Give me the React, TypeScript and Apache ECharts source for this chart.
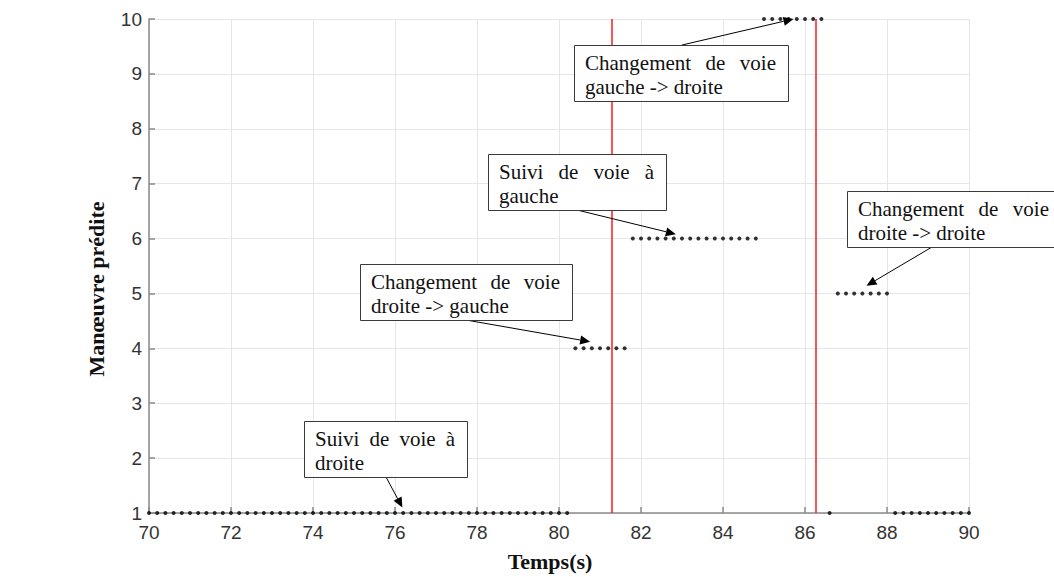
import React, { useEffect, useRef } from "react";
import * as echarts from "echarts";

// Time samples (s)
const temps = [
  70.0, 70.2, 70.4, 70.6, 70.8, 71.0, 71.2, 71.4, 71.6, 71.8,
  72.0, 72.2, 72.4, 72.6, 72.8, 73.0, 73.2, 73.4, 73.6, 73.8,
  74.0, 74.2, 74.4, 74.6, 74.8, 75.0, 75.2, 75.4, 75.6, 75.8,
  76.0, 76.2, 76.4, 76.6, 76.8, 77.0, 77.2, 77.4, 77.6, 77.8,
  78.0, 78.2, 78.4, 78.6, 78.8, 79.0, 79.2, 79.4, 79.6, 79.8,
  80.0, 80.2, 80.4, 80.6, 80.8, 81.0, 81.2, 81.4, 81.6, 81.8,
  82.0, 82.2, 82.4, 82.6, 82.8, 83.0, 83.2, 83.4, 83.6, 83.8,
  84.0, 84.2, 84.4, 84.6, 84.8, 85.0, 85.2, 85.4, 85.6, 85.8,
  86.0, 86.2, 86.4, 86.6, 86.8, 87.0, 87.2, 87.4, 87.6, 87.8,
  88.0, 88.2, 88.4, 88.6, 88.8, 89.0, 89.2, 89.4, 89.6, 89.8,
  90.0,
];

// Predicted manoeuvre at each time sample
const manoeuvre = [
  1, 1, 1, 1, 1, 1, 1, 1, 1, 1,
  1, 1, 1, 1, 1, 1, 1, 1, 1, 1,
  1, 1, 1, 1, 1, 1, 1, 1, 1, 1,
  1, 1, 1, 1, 1, 1, 1, 1, 1, 1,
  1, 1, 1, 1, 1, 1, 1, 1, 1, 1,
  1, 1, 4, 4, 4, 4, 4, 4, 4, 6,
  6, 6, 6, 6, 6, 6, 6, 6, 6, 6,
  6, 6, 6, 6, 6, 10, 10, 10, 10, 10,
  10, 10, 10, 1, 5, 5, 5, 5, 5, 5,
  5, 1, 1, 1, 1, 1, 1, 1, 1, 1,
  1,
];

// Lane-change instants (red vertical lines)
const changementsVoie = [81.28, 86.27];

// Annotation texts
const annotationTexts = [
  ["Changement de voie", "gauche -> droite"],
  ["Suivi de voie à", "gauche"],
  ["Changement de voie", "droite -> gauche"],
  ["Changement de voie", "droite -> droite"],
  ["Suivi de voie à", "droite"],
];

// Arrow tips in data coordinates [time, manoeuvre]
const annotationTips = [
  [85.72, 10.0],
  [82.85, 6.08],
  [80.76, 4.12],
  [87.5, 5.14],
  [76.18, 1.1],
];

// Box layout (pixels) and arrow start points (pixels)
const boxLayout = [
  { x: 574, y: 45, w: 214, h: 56, sx: 682, sy: 45 },
  { x: 488, y: 154, w: 178, h: 56, sx: 577, sy: 210 },
  { x: 360, y: 264, w: 212, h: 56, sx: 466, sy: 320 },
  { x: 847, y: 191, w: 214, h: 56, sx: 932, sy: 247 },
  { x: 304, y: 421, w: 163, h: 56, sx: 386, sy: 477 },
];

const BOX_FONT_SIZE = 21;
const BOX_FONT_FAMILY = "'Liberation Serif', 'Times New Roman', serif";

let measureCtx: CanvasRenderingContext2D | null = null;
function measure(t: string): number {
  if (!measureCtx) {
    const c = document.createElement("canvas");
    measureCtx = c.getContext("2d");
  }
  if (!measureCtx) return t.length * BOX_FONT_SIZE * 0.5;
  measureCtx.font = `${BOX_FONT_SIZE}px ${BOX_FONT_FAMILY}`;
  return measureCtx.measureText(t).width;
}

function textEl(text: string, x: number, y: number) {
  return {
    type: "text",
    z: 110,
    silent: true,
    style: {
      text,
      x,
      y,
      fill: "#111",
      fontSize: BOX_FONT_SIZE,
      fontFamily: BOX_FONT_FAMILY,
      align: "left",
      verticalAlign: "middle",
      textAlign: "left",
      textVerticalAlign: "middle",
    },
  };
}

function lineEls(line: string, x: number, y: number, width: number, justify: boolean) {
  const words = line.split(" ");
  if (!justify || words.length < 2) return [textEl(line, x, y)];
  const widths = words.map(measure);
  const total = widths.reduce((a, b) => a + b, 0);
  const gap = (width - total) / (words.length - 1);
  const els: any[] = [];
  let cx = x;
  words.forEach((w, i) => {
    els.push(textEl(w, cx, y));
    cx += widths[i] + gap;
  });
  return els;
}

function arrowEls(sx: number, sy: number, tx: number, ty: number) {
  const dx = tx - sx;
  const dy = ty - sy;
  const len = Math.sqrt(dx * dx + dy * dy) || 1;
  const ux = dx / len;
  const uy = dy / len;
  const L = 10;
  const W = 4.5;
  const bx = tx - ux * L;
  const by = ty - uy * L;
  const nx = -uy;
  const ny = ux;
  return [
    {
      type: "line",
      z: 105,
      silent: true,
      shape: { x1: sx, y1: sy, x2: bx, y2: by },
      style: { stroke: "#000", lineWidth: 1 },
    },
    {
      type: "polygon",
      z: 105,
      silent: true,
      shape: {
        points: [
          [tx, ty],
          [bx + nx * W, by + ny * W],
          [bx - nx * W, by - ny * W],
        ],
      },
      style: { fill: "#000", stroke: "none" },
    },
  ];
}

export default function App() {
  const ref = useRef<HTMLDivElement>(null);

  useEffect(() => {
    if (!ref.current) return;
    const chart = echarts.init(ref.current, undefined, { renderer: "svg" });

    const axisLabelStyle = {
      color: "#333333",
      fontFamily: "'Liberation Sans', Arial, sans-serif",
      fontSize: 19,
    };

    const option: any = {
      animation: false,
      backgroundColor: "#ffffff",
      grid: { left: 149, right: 85, top: 19, bottom: 59, containLabel: false },
      xAxis: {
        type: "value",
        min: 70,
        max: 90,
        interval: 2,
        name: "Temps(s)",
        nameLocation: "middle",
        nameGap: 37,
        nameTextStyle: {
          fontFamily: "'Liberation Serif', 'Times New Roman', serif",
          fontWeight: "bold",
          fontSize: 22,
          color: "#111",
          padding: [0, 18, 0, 0],
        },
        axisLine: { show: true, onZero: false, lineStyle: { color: "#8a8a8a", width: 1.5 } },
        axisTick: { show: true, inside: true, length: 6, lineStyle: { color: "#8a8a8a", width: 1.5 } },
        axisLabel: { ...axisLabelStyle, margin: 10 },
        splitLine: { show: true, lineStyle: { color: "#e6e6e6", width: 1 } },
      },
      yAxis: {
        type: "value",
        min: 1,
        max: 10,
        interval: 1,
        name: "Manœuvre prédite",
        nameLocation: "middle",
        nameRotate: 90,
        nameGap: 42,
        nameTextStyle: {
          fontFamily: "'Liberation Serif', 'Times New Roman', serif",
          fontWeight: "bold",
          fontSize: 22,
          color: "#111",
          padding: [0, 46, 0, 0],
        },
        axisLine: { show: true, onZero: false, lineStyle: { color: "#8a8a8a", width: 1.5 } },
        axisTick: { show: true, inside: true, length: 6, lineStyle: { color: "#8a8a8a", width: 1.5 } },
        axisLabel: { ...axisLabelStyle, margin: 7 },
        splitLine: { show: true, lineStyle: { color: "#e6e6e6", width: 1 } },
      },
      series: [
        {
          name: "Changement de voie",
          type: "line",
          data: [],
          silent: true,
          markLine: {
            silent: true,
            symbol: "none",
            label: { show: false },
            lineStyle: { color: "#ff1a1a", type: "solid", width: 1.5 },
            data: changementsVoie.map((t) => ({ xAxis: t })),
          },
        },
        {
          name: "Manœuvre prédite",
          type: "scatter",
          symbol: "circle",
          symbolSize: 4,
          itemStyle: { color: "#000" },
          z: 5,
          data: temps.map((t, i) => [t, manoeuvre[i]]),
        },
      ],
    };

    chart.setOption(option);

    const graphics: any[] = [];
    boxLayout.forEach((b, i) => {
      const tip = chart.convertToPixel({ gridIndex: 0 }, annotationTips[i]) as number[];
      graphics.push(...arrowEls(b.sx, b.sy, tip[0], tip[1]));
      graphics.push({
        type: "rect",
        z: 108,
        silent: true,
        shape: { x: b.x + 0.5, y: b.y + 0.5, width: b.w, height: b.h },
        style: { fill: "#ffffff", stroke: "#3a3a3a", lineWidth: 1 },
      });
      const padL = 11;
      const textW = b.w - 23;
      const lines = annotationTexts[i];
      lines.forEach((ln, j) => {
        const baseline = b.y + 25 + j * 24;
        const yMid = baseline - 7;
        graphics.push(...lineEls(ln, b.x + padL, yMid, textW, j < lines.length - 1));
      });
    });

    chart.setOption({ graphic: { elements: graphics } });

    return () => {
      chart.dispose();
    };
  }, []);

  return (
    <div
      ref={ref}
      style={{ position: "fixed", left: 0, top: 0, width: 1054, height: 577 }}
    />
  );
}
